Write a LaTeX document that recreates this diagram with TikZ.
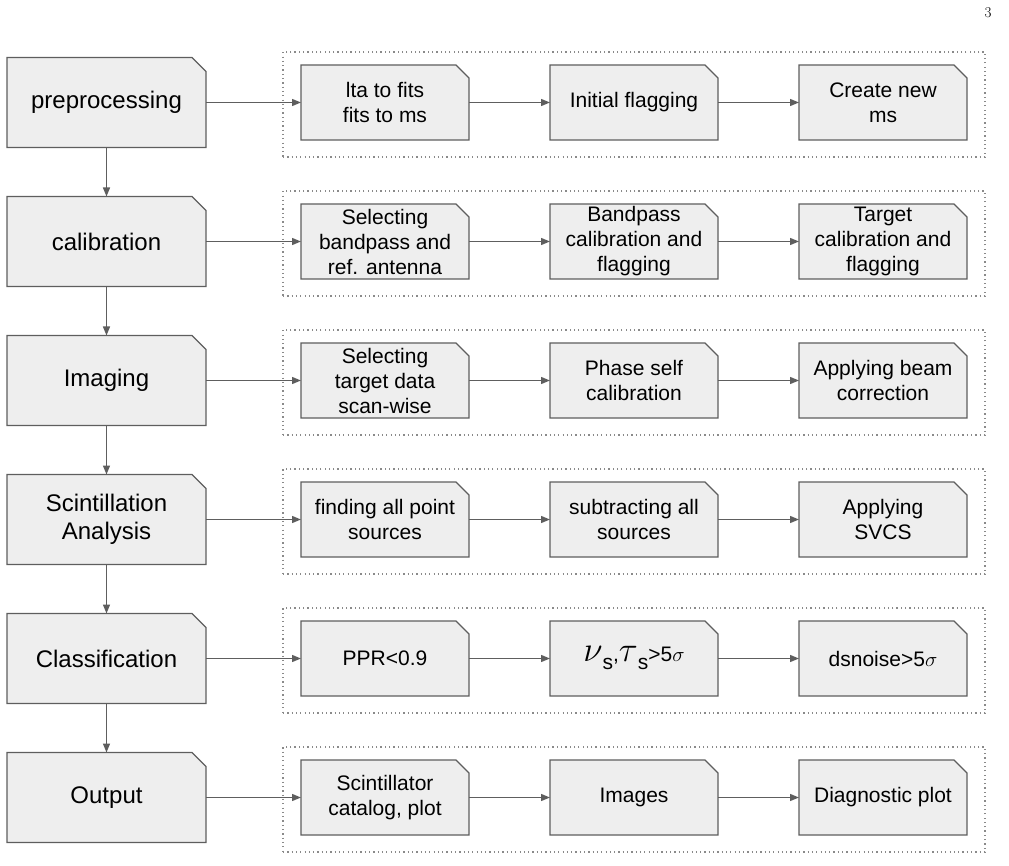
\documentclass[tikz,border=0pt]{standalone}
\usepackage{fontspec}
\newfontfamily\arialfont{Liberation Sans}
\usepackage{tikz}
\usetikzlibrary{arrows.meta, positioning, fit}

\definecolor{boxfill}{HTML}{EEEEEE}
\definecolor{boxline}{HTML}{5E5E5E}
\definecolor{dotline}{HTML}{8A8A8A}

% rectangle with the top right corner cut off
\newdimen\cardcut
\makeatletter
\pgfdeclareshape{card}{
  \inheritsavedanchors[from=rectangle]
  \inheritanchorborder[from=rectangle]
  \inheritanchor[from=rectangle]{center}
  \inheritanchor[from=rectangle]{north}
  \inheritanchor[from=rectangle]{south}
  \inheritanchor[from=rectangle]{east}
  \inheritanchor[from=rectangle]{west}
  \inheritanchor[from=rectangle]{north east}
  \inheritanchor[from=rectangle]{north west}
  \inheritanchor[from=rectangle]{south east}
  \inheritanchor[from=rectangle]{south west}
  \inheritanchor[from=rectangle]{base}
  \inheritanchor[from=rectangle]{mid}
  \backgroundpath{
    \southwest \pgf@xa=\pgf@x \pgf@ya=\pgf@y
    \northeast \pgf@xb=\pgf@x \pgf@yb=\pgf@y
    \pgfpathmoveto{\pgfqpoint{\pgf@xa}{\pgf@ya}}
    \pgfpathlineto{\pgfqpoint{\pgf@xa}{\pgf@yb}}
    \pgfpathlineto{\pgfqpoint{\dimexpr\pgf@xb-\cardcut\relax}{\pgf@yb}}
    \pgfpathlineto{\pgfqpoint{\pgf@xb}{\dimexpr\pgf@yb-\cardcut\relax}}
    \pgfpathlineto{\pgfqpoint{\pgf@xb}{\pgf@ya}}
    \pgfpathclose
  }
}
\makeatother

\begin{document}
\begin{tikzpicture}[
        x=1pt, y=1pt,
        node distance=49pt and 81pt,
        card cut/.code={\global\cardcut=#1},
        stage/.style={card, card cut=14pt, draw=boxline, line width=1.1pt, fill=boxfill, minimum width=199pt, minimum height=90pt, inner sep=0pt, outer sep=0pt, align=center, font=\arialfont\fontsize{24}{28}\selectfont},
        task/.style={stage, card cut=13pt, minimum width=168pt, minimum height=75pt, font=\arialfont\fontsize{21}{25}\selectfont},
        group/.style={draw=dotline, line width=1.2pt, dash pattern=on 1.2pt off 3.1pt, inner xsep=18pt, inner ysep=15pt, yshift=-2pt},
        arrow/.style={-{Triangle[length=9pt, width=7pt]}, draw=boxline, line width=1.3pt}
    ]
        \useasboundingbox (0,0) rectangle (1009,-866);
        \node[font=\fontsize{15}{17}\selectfont] (pagenum) at (988,-13) {3};

        \node[stage] (prep) at (106.5,-102.5) {preprocessing};
        \node[stage, below=of prep] (calib) {calibration};
        \node[stage, below=of calib] (imag) {Imaging};
        \node[stage, below=of imag] (scint) {Scintillation\\Analysis};
        \node[stage, below=of scint] (class) {Classification};
        \node[stage, below=of class] (outp) {Output};

        \node[task, right=95pt of prep] (prep1) {lta to fits\\fits to ms};
        \node[task, right=of prep1] (prep2) {Initial flagging};
        \node[task, right=of prep2] (prep3) {Create new\\ms};

        \node[task, right=95pt of calib] (calib1) {Selecting\\bandpass and\\ref. antenna};
        \node[task, right=of calib1] (calib2) {Bandpass\\calibration and\\flagging};
        \node[task, right=of calib2] (calib3) {Target\\calibration and\\flagging};

        \node[task, right=95pt of imag] (imag1) {Selecting\\target data\\scan-wise};
        \node[task, right=of imag1] (imag2) {Phase self\\calibration};
        \node[task, right=of imag2] (imag3) {Applying beam\\correction};

        \node[task, right=95pt of scint] (scint1) {finding all point\\sources};
        \node[task, right=of scint1] (scint2) {subtracting all\\sources};
        \node[task, right=of scint2] (scint3) {Applying\\SVCS};

        \node[task, right=95pt of class] (class1) {PPR<0.9};
        \node[task, right=of class1] (class2) {\scalebox{1.7}{$\nu$}\raisebox{-8pt}{s},\scalebox{1.7}{$\tau$}\raisebox{-8pt}{s}>5$\sigma$};
        \node[task, right=of class2] (class3) {dsnoise>5$\sigma$};

        \node[task, right=95pt of outp] (outp1) {Scintillator\\catalog, plot};
        \node[task, right=of outp1] (outp2) {Images};
        \node[task, right=of outp2] (outp3) {Diagnostic plot};

        \node[group, fit=(prep1)(prep3)] (prepgrp) {};
        \node[group, fit=(calib1)(calib3)] (calibgrp) {};
        \node[group, fit=(imag1)(imag3)] (imaggrp) {};
        \node[group, fit=(scint1)(scint3)] (scintgrp) {};
        \node[group, fit=(class1)(class3)] (classgrp) {};
        \node[group, fit=(outp1)(outp3)] (outpgrp) {};

        \draw[arrow] (prep) -- (calib);
        \draw[arrow] (calib) -- (imag);
        \draw[arrow] (imag) -- (scint);
        \draw[arrow] (scint) -- (class);
        \draw[arrow] (class) -- (outp);

        \draw[arrow] (prep) -- (prep1);
        \draw[arrow] (prep1) -- (prep2);
        \draw[arrow] (prep2) -- (prep3);
        \draw[arrow] (calib) -- (calib1);
        \draw[arrow] (calib1) -- (calib2);
        \draw[arrow] (calib2) -- (calib3);
        \draw[arrow] (imag) -- (imag1);
        \draw[arrow] (imag1) -- (imag2);
        \draw[arrow] (imag2) -- (imag3);
        \draw[arrow] (scint) -- (scint1);
        \draw[arrow] (scint1) -- (scint2);
        \draw[arrow] (scint2) -- (scint3);
        \draw[arrow] (class) -- (class1);
        \draw[arrow] (class1) -- (class2);
        \draw[arrow] (class2) -- (class3);
        \draw[arrow] (outp) -- (outp1);
        \draw[arrow] (outp1) -- (outp2);
        \draw[arrow] (outp2) -- (outp3);
    \end{tikzpicture}
\end{document}
